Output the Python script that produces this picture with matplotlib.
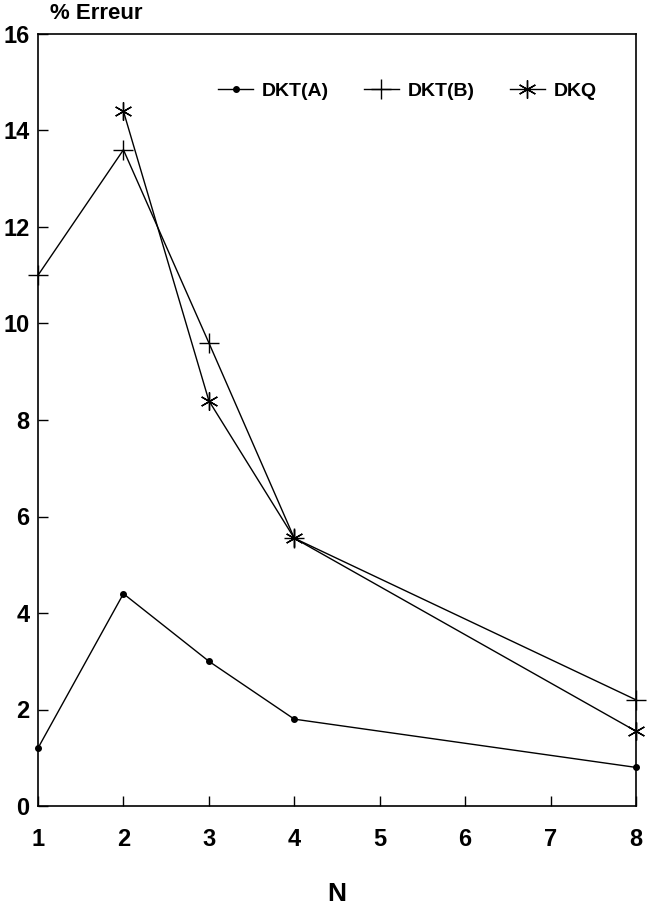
import matplotlib
matplotlib.use("Agg")
import matplotlib.pyplot as plt

plt.rcParams['font.family'] = ['Liberation Sans', 'DejaVu Sans']
plt.rcParams['font.weight'] = 'bold'

# Data
n_a = [1, 2, 3, 4, 8]
dkt_a = [1.2, 4.4, 3.0, 1.8, 0.8]
n_b = [1, 2, 3, 4, 8]
dkt_b = [11.0, 13.6, 9.6, 5.55, 2.2]
n_q = [2, 3, 4, 8]
dkq = [14.4, 8.4, 5.55, 1.55]

x_ticks = [1, 2, 3, 4, 5, 6, 7, 8]
y_ticks = [0, 2, 4, 6, 8, 10, 12, 14, 16]

fig = plt.figure(figsize=(6.49, 9.19), dpi=100)
ax = fig.add_axes([38/649, 1-806/919, (636-38)/649, (806-34)/919])

ax.plot(n_a, dkt_a, color='black', lw=1.0, marker='o', ms=4, label='DKT(A)', clip_on=False)
ax.plot(n_b, dkt_b, color='black', lw=1.0, marker='+', ms=15, mew=1.0, label='DKT(B)', clip_on=False)
ax.plot(n_q, dkq, color='black', lw=1.0, marker=(6, 2, 0), ms=13, mew=1.0, label='DKQ', clip_on=False)

ax.set_xlim(1, 8)
ax.set_ylim(0, 16)
ax.set_xticks(x_ticks)
ax.set_xticklabels([str(v) for v in x_ticks])
ax.set_yticks(y_ticks)
ax.set_yticklabels([str(v) for v in y_ticks])
ax.tick_params(axis='both', direction='in', length=7, width=1.0, labelsize=17)
ax.tick_params(axis='x', pad=16)
ax.tick_params(axis='y', pad=6)
for lab in ax.get_xticklabels() + ax.get_yticklabels():
    lab.set_fontweight('bold')
for s in ax.spines.values():
    s.set_linewidth(1.2)

ax.set_xlabel('N', fontsize=19, fontweight='bold', labelpad=22)
fig.text(50/649, 1-19/919, '% Erreur', fontsize=16, fontweight='bold', ha='left', va='baseline')

leg = ax.legend(loc='center left', bbox_to_anchor=(218/649, 1-91/919), bbox_transform=fig.transFigure,
                ncol=3, frameon=False, handlelength=1.8, handletextpad=0.45,
                columnspacing=1.8, borderpad=0, borderaxespad=0, numpoints=1,
                prop={'weight': 'bold', 'size': 14})

fig.savefig('out.png', dpi=100)
